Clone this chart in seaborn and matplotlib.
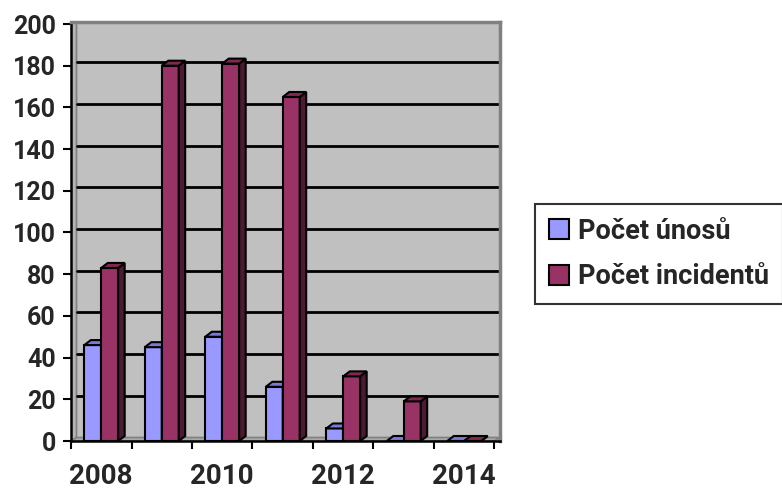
import matplotlib
matplotlib.use("Agg")
import matplotlib.pyplot as plt
from matplotlib.patches import Polygon, Patch
import numpy as np
import pandas as pd
import seaborn as sns

# Data
years = ["2008", "2009", "2010", "2011", "2012", "2013", "2014"]
unosy = [46, 45, 50, 26, 6, 0, 0]
incidenty = [83, 180, 181, 165, 31, 19, 0]
series_names = ["Počet únosů", "Počet incidentů"]
y_ticks = [0, 20, 40, 60, 80, 100, 120, 140, 160, 180, 200]

front_colors = ["#9999FF", "#993366"]
top_colors = ["#7A7AD6", "#80294F"]
side_colors = ["#4D4D80", "#4C1A33"]

df = pd.DataFrame({
    "Rok": years * 2,
    "Hodnota": unosy + incidenty,
    "Řada": [series_names[0]] * len(years) + [series_names[1]] * len(years),
})

sns.set_theme(style="white")
plt.rcParams["font.family"] = ["Roboto", "DejaVu Sans"]
plt.rcParams["font.weight"] = "bold"

W, H = 782, 490
fig = plt.figure(figsize=(W / 100, H / 100), dpi=100)
# plot area in pixels: x 71..500, y 22..441
ax = fig.add_axes([71 / W, (H - 441) / H, (500 - 71) / W, (441 - 22) / H])

px_x = 60.5          # pixels per category
px_y = 2.085         # pixels per unit value
xlim = (-0.5, -0.5 + (500 - 71) / px_x)
ylim = (0, (441 - 22) / px_y)

ax.set_facecolor("#C0C0C0")

# depth offsets (data units)
bdx, bdy = 6.5 / px_x, 5 / px_y      # bar depth
wdx, wdy = 5.5 / px_x, 3.5 / px_y    # wall depth

ymax = y_ticks[-1]
x_left, x_right = -0.5, len(years) - 0.5

# left wall and floor
ax.add_patch(Polygon([(x_left, 0), (x_left + wdx, wdy), (x_left + wdx, ymax + wdy), (x_left, ymax)],
                     closed=True, facecolor="#B4B4B4", edgecolor="#808080", lw=1.2, zorder=1))
ax.add_patch(Polygon([(x_left, 0), (x_right, 0), (x_right + wdx, wdy), (x_left + wdx, wdy)],
                     closed=True, facecolor="#A8A8A8", edgecolor="#808080", lw=1.2, zorder=1))

# gridlines on the back wall
for v in y_ticks[1:-1]:
    ax.plot([x_left + wdx, x_right + wdx], [v + wdy, v + wdy], color="black", lw=2, zorder=1.5)

sns.barplot(data=df, x="Rok", y="Hodnota", hue="Řada", order=years, hue_order=series_names,
            palette=front_colors, width=0.56, gap=0, edgecolor="black", linewidth=1.5,
            saturation=1, ax=ax, legend=False, zorder=3)

# 3D faces on each column
for i, cont in enumerate(ax.containers):
    for bar in cont:
        bar.set_zorder(3 + i)
        x0, w, h = bar.get_x(), bar.get_width(), bar.get_height()
        top = Polygon([(x0, h), (x0 + w, h), (x0 + w + bdx, h + bdy), (x0 + bdx, h + bdy)],
                      closed=True, facecolor=top_colors[i], edgecolor="black", lw=1.5, zorder=3 + i)
        side = Polygon([(x0 + w, 0), (x0 + w + bdx, bdy), (x0 + w + bdx, h + bdy), (x0 + w, h)],
                       closed=True, facecolor=side_colors[i], edgecolor="black", lw=1.5, zorder=3 + i)
        ax.add_patch(side)
        ax.add_patch(top)

ax.set_xlim(*xlim)
ax.set_ylim(*ylim)

# axes and ticks
ax.set_xlabel("")
ax.set_ylabel("")
ax.set_yticks(y_ticks)
ax.set_yticklabels([str(v) for v in y_ticks], fontsize=18, fontweight="bold")
ax.tick_params(axis="y", direction="out", length=6, width=1.5, color="black", pad=5, left=True)

ax.set_xticks(range(len(years)))
ax.set_xticklabels([y if k % 2 == 0 else "" for k, y in enumerate(years)], fontsize=20, fontweight="bold")
ax.set_xticks(np.arange(len(years) + 1) - 0.5, minor=True)
ax.tick_params(axis="x", which="major", length=0, pad=16)
ax.tick_params(axis="x", which="minor", direction="out", length=6, width=1.5, color="black", bottom=True)

for s in ["left", "bottom"]:
    ax.spines[s].set_color("black")
    ax.spines[s].set_linewidth(1.8)
for s in ["top", "right"]:
    ax.spines[s].set_color("#808080")
    ax.spines[s].set_linewidth(2.5)
ax.spines["left"].set_bounds(0, ymax)
ax.spines["bottom"].set_bounds(x_left, x_right + wdx)

# legend
handles = [Patch(facecolor=c, edgecolor="black", lw=1.5) for c in front_colors]
leg = fig.legend(handles, series_names, loc="upper left", bbox_to_anchor=(535 / W, 1 - 204 / H),
                 frameon=True, fancybox=False, edgecolor="black",
                 prop={"weight": "bold", "size": 19.5}, handlelength=0.75, handleheight=0.75,
                 handletextpad=0.35, labelspacing=0.7, borderpad=0.5, borderaxespad=0)
leg.get_frame().set_linewidth(1.5)

fig.savefig("out.png", dpi=100)
